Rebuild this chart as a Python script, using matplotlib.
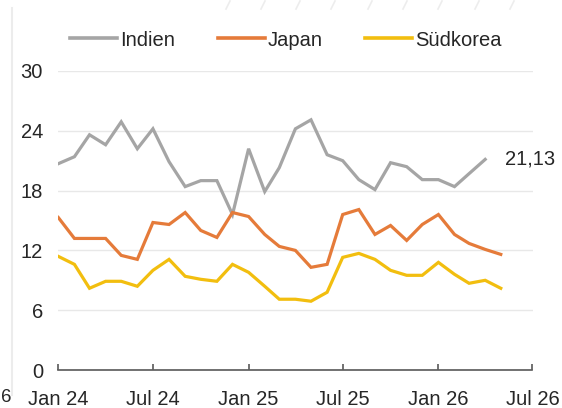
import matplotlib
matplotlib.use("Agg")
import matplotlib.pyplot as plt
from matplotlib.lines import Line2D
import pandas as pd

# ---- data ----
dates_indien = pd.date_range("2024-01-01", "2026-04-01", freq="MS")
dates_other = pd.date_range("2024-01-01", "2026-05-01", freq="MS")

indien = [20.7, 21.4, 23.6, 22.6, 24.9, 22.2, 24.2, 20.9, 18.4, 19.0,
          19.0, 15.6, 22.2, 17.9, 20.3, 24.2, 25.1, 21.6, 21.0, 19.1,
          18.1, 20.8, 20.4, 19.1, 19.1, 18.4, 19.7, 21.13]
japan = [15.3, 13.2, 13.2, 13.2, 11.5, 11.1, 14.8, 14.6, 15.8, 14.0,
         13.3, 15.8, 15.4, 13.6, 12.4, 12.0, 10.3, 10.6, 15.6, 16.1,
         13.6, 14.5, 13.0, 14.6, 15.6, 13.6, 12.7, 12.1, 11.6]
suedkorea = [11.4, 10.6, 8.2, 8.9, 8.9, 8.4, 10.0, 11.1, 9.4, 9.1,
             8.9, 10.6, 9.8, 8.4, 7.1, 7.1, 6.9, 7.8, 11.3, 11.7,
             11.1, 10.0, 9.5, 9.5, 10.8, 9.6, 8.7, 9.0, 8.2]

series_names = ["Indien", "Japan", "Südkorea"]
colors = ["#A5A5A5", "#E57B3A", "#F2BE0F"]
yticks = [0, 6, 12, 18, 24, 30]
xtick_dates = pd.to_datetime(["2024-01-01", "2024-07-01", "2025-01-01",
                              "2025-07-01", "2026-01-01", "2026-07-01"])
xtick_labels = ["Jan 24", "Jul 24", "Jan 25", "Jul 25", "Jan 26", "Jul 26"]
end_label = "21,13"

plt.rcParams["font.family"] = ["Liberation Sans", "DejaVu Sans"]
FS = 14.5
TXT = "#262626"

fig = plt.figure(figsize=(5.62, 4.08), dpi=100)
W, H = 562, 408
ax = fig.add_axes([58.3 / W, 1 - 370 / H, (532.5 - 58.3) / W, (370 - 71) / H])

lw = 2.3
ax.plot(dates_indien, indien, color=colors[0], lw=lw, label=series_names[0],
        solid_joinstyle="miter", zorder=3)
ax.plot(dates_other, japan, color=colors[1], lw=lw, label=series_names[1],
        solid_joinstyle="miter", zorder=3)
ax.plot(dates_other, suedkorea, color=colors[2], lw=lw, label=series_names[2],
        solid_joinstyle="miter", zorder=3)

ax.set_xlim(pd.Timestamp("2024-01-01"), pd.Timestamp("2026-07-01"))
ax.set_ylim(0, 30)
ax.set_yticks(yticks)
ax.set_yticklabels([str(v) for v in yticks])
ax.set_xticks(xtick_dates)
ax.set_xticklabels(xtick_labels)

for s in ["top", "right", "left"]:
    ax.spines[s].set_visible(False)
ax.spines["bottom"].set_color("#595959")
ax.spines["bottom"].set_linewidth(1.2)

ax.yaxis.grid(True, color="#E8E8E8", lw=1.0)
ax.set_axisbelow(True)
ax.tick_params(axis="y", length=0, pad=11, labelsize=FS, labelcolor=TXT)
ax.tick_params(axis="x", direction="in", length=4, width=1.2, color="#595959",
               pad=14.5, labelsize=FS, labelcolor=TXT)

ax.annotate(end_label, xy=(dates_indien[-1], indien[-1]), xytext=(14.5, 0),
            textcoords="offset points", ha="left", va="center",
            fontsize=FS, color=TXT)

leg = ax.legend(loc="center left", bbox_to_anchor=(70 / W, 1 - 40 / H),
                bbox_transform=fig.transFigure, ncol=3, frameon=False,
                fontsize=FS, handlelength=2.35, handletextpad=0.15,
                columnspacing=2.1, borderpad=0, borderaxespad=0)
for t in leg.get_texts():
    t.set_color(TXT)
for h in leg.get_lines():
    h.set_linewidth(2.6)

# decorative page elements
fig.add_artist(Line2D([12 / W, 12 / W], [1 - 8 / H, 1 - 395 / H],
                      transform=fig.transFigure, color="#ECECEC", lw=1.5))
for xs in [228, 263, 298, 333, 370, 405, 440, 477, 512]:
    fig.add_artist(Line2D([(xs - 2) / W, (xs + 2) / W], [1 - 9 / H, 1 - 1 / H],
                          transform=fig.transFigure, color="#EDEDED", lw=1.2))
fig.text(0.5 / W, 1 - 397 / H, "6", ha="left", va="center", fontsize=FS - 1, color=TXT)

fig.savefig("out.png", dpi=100)
